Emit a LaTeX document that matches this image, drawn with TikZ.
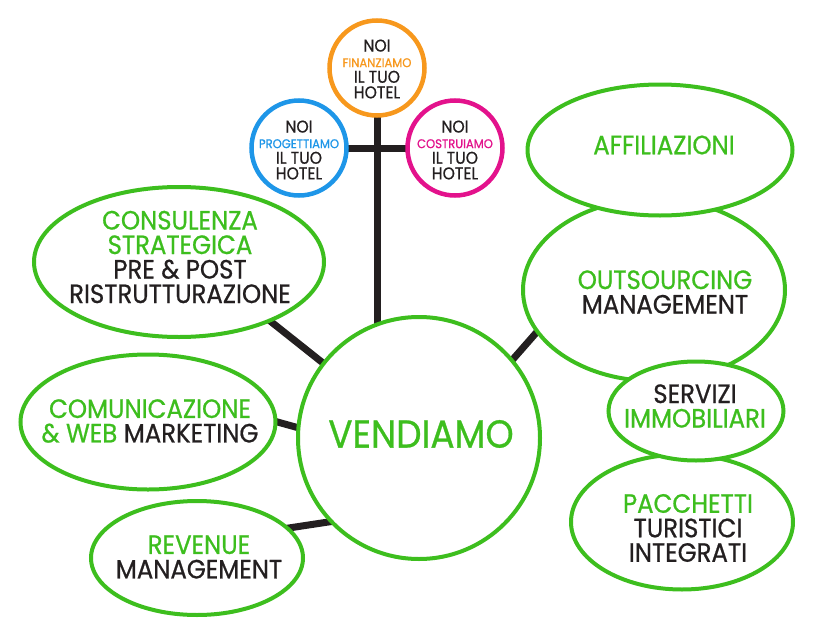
\documentclass[tikz,border=0pt]{standalone}
\usepackage{fontspec}
\setmainfont{Poppins}[FakeStretch=0.92,FakeBold=0.7]
\usetikzlibrary{shapes.geometric}
\pgfdeclarelayer{bg}
\pgfsetlayers{bg,main}
\definecolor{grn}{HTML}{3DBE1E}
\definecolor{org}{HTML}{F7981D}
\definecolor{blu}{HTML}{1E96E8}
\definecolor{mag}{HTML}{E3128C}
\definecolor{ink}{HTML}{231F20}
\newcommand{\subword}[2]{{\fontsize{12.6}{15.6}\selectfont\textcolor{#1}{#2}}}
\begin{document}
\begin{tikzpicture}[x=1pt,y=-1pt,
 bubble/.style={ellipse, draw=grn, line width=4pt, fill=white, inner sep=0pt},
 ring/.style={circle, line width=4.5pt, fill=white, inner sep=0pt, minimum size=95pt},
 lbl/.style={align=center, text=ink, inner sep=0pt, font=\fontsize{26.5}{24.5}\selectfont},
 small/.style={align=center, text=ink, inner sep=0pt, font=\fontsize{17}{15.6}\selectfont},
 link/.style={line width=7pt, draw=ink}]
\useasboundingbox (0,0) rectangle (828,640);
% bubbles
\node[ring, draw=org] (fin) at (377,68) {};
\node[ring, draw=blu] (prog) at (299,148) {};
\node[ring, draw=mag] (cost) at (455,148) {};
\node[bubble, minimum width=290pt, minimum height=150pt] (cons) at (179,262) {};
\node[bubble, minimum width=255pt, minimum height=135pt] (comm) at (148,422) {};
\node[bubble, minimum width=212pt, minimum height=114pt] (rev) at (197,558) {};
\node[bubble, circle, minimum size=242pt] (vend) at (419,438) {};
\node[bubble, minimum width=262pt, minimum height=182pt] (outs) at (654,290) {};
\node[bubble, minimum width=265pt, minimum height=131pt] (affil) at (660,150) {};
\node[bubble, minimum width=222pt, minimum height=135pt] (pacc) at (682,522) {};
\node[bubble, minimum width=175pt, minimum height=99pt] (serv) at (696,411) {};
% connectors
\begin{pgfonlayer}{bg}
\draw[link] (fin.center) -- (fin.center |- vend.center);
\draw[link] (prog.center) -- (cost.center);
\draw[link, shorten <=-6pt, shorten >=-6pt] (cons.327) -- (vend.142);
\draw[link, shorten <=-6pt, shorten >=-6pt] (comm.0) -- (vend.175);
\draw[link, shorten <=-6pt, shorten >=-6pt] (rev.18) -- (vend.223);
\draw[link, shorten <=-6pt, shorten >=-6pt] (vend.40) -- (outs.200);
\end{pgfonlayer}
% labels
\node[small] (finT) at (377,69) {NOI\\\subword{org}{FINANZIAMO}\\IL TUO\\HOTEL};
\node[small] (progT) at (299,150) {NOI\\\subword{blu}{PROGETTIAMO}\\IL TUO\\HOTEL};
\node[small] (costT) at (455,150) {NOI\\\subword{mag}{COSTRUIAMO}\\IL TUO\\HOTEL};
\node[lbl] (consT) at (180,257) {\textcolor{grn}{CONSULENZA}\\\textcolor{grn}{STRATEGICA}\\PRE \& POST\\RISTRUTTURAZIONE};
\node[lbl] (commT) at (150,421) {\textcolor{grn}{COMUNICAZIONE}\\\textcolor{grn}{\& WEB} MARKETING};
\node[lbl] (revT) at (199,557) {\textcolor{grn}{REVENUE}\\MANAGEMENT};
\node[lbl, text=grn, font=\fontsize{39}{40}\selectfont] (vendT) at (421,434) {VENDIAMO};
\node[lbl, text=grn] (affT) at (664,145) {AFFILIAZIONI};
\node[lbl] (outT) at (665,292) {\textcolor{grn}{OUTSOURCING}\\MANAGEMENT};
\node[lbl] (servT) at (695,406) {SERVIZI\\\textcolor{grn}{IMMOBILIARI}};
\node[lbl] (paccT) at (688,528) {\textcolor{grn}{PACCHETTI}\\TURISTICI\\INTEGRATI};
\end{tikzpicture}
\end{document}
